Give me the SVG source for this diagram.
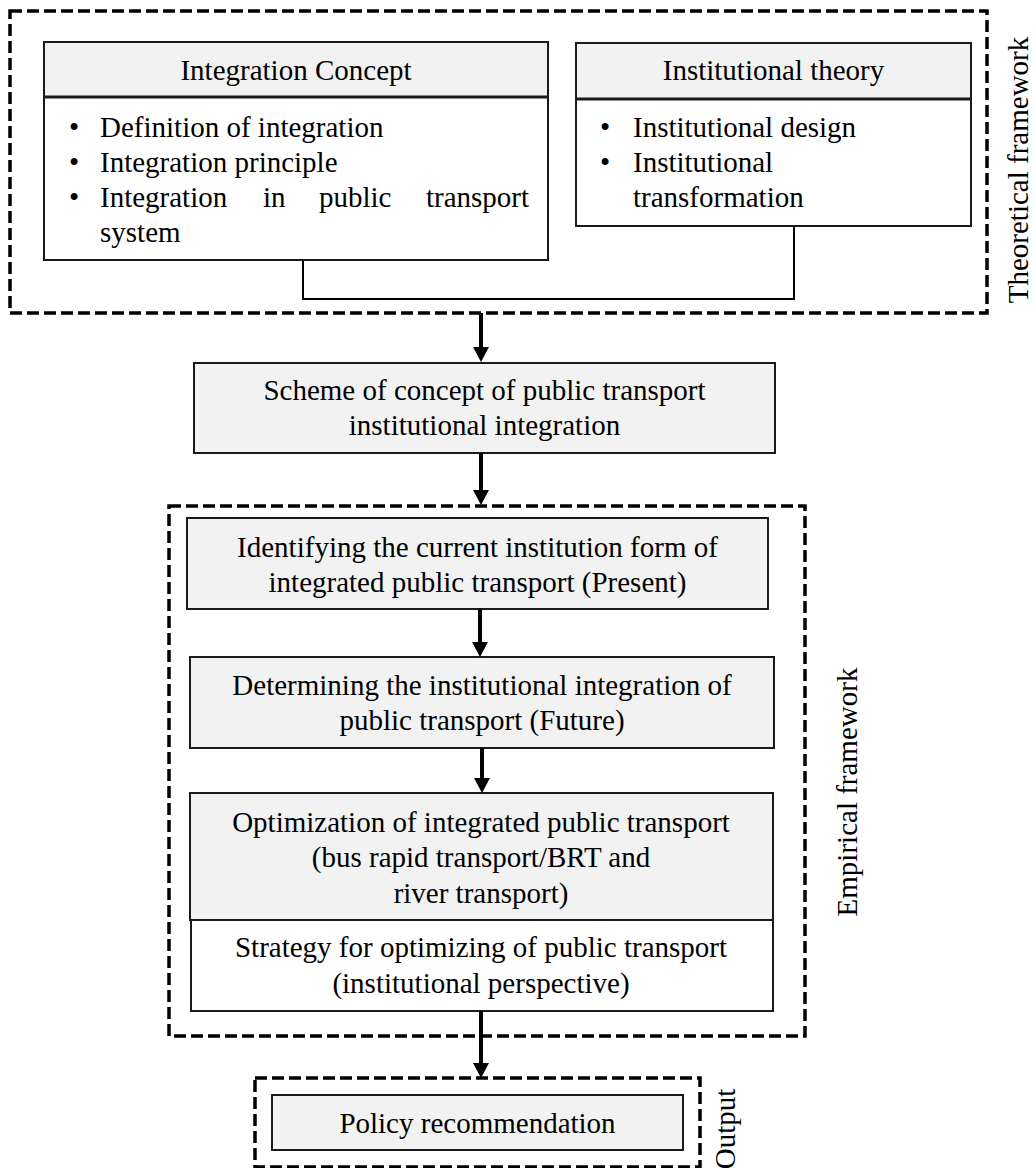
<svg xmlns="http://www.w3.org/2000/svg" width="1035" height="1168" viewBox="0 0 1035 1168">
  <style>
    text { font-family: "Liberation Serif", "Times New Roman", serif; font-size: 29px; fill: #000; }
    .c { text-anchor: middle; }
    .frame { fill: none; stroke: #000; stroke-width: 3.5; stroke-dasharray: 12 5; }
    .box { stroke: #1a1a1a; stroke-width: 2; }
    .grey { fill: #f2f2f2; }
    .white { fill: #fff; }
    .rule { stroke: #1a1a1a; stroke-width: 3; }
    .link { fill: none; stroke: #000; stroke-width: 2; }
    .flow { fill: none; stroke: #000; stroke-width: 4; marker-end: url(#head); }
  </style>
  <defs>
    <marker id="head" markerUnits="userSpaceOnUse" viewBox="0 0 15 16" markerWidth="15" markerHeight="16" refX="7" refY="8" orient="auto">
      <path d="M0,0 L15,8 L0,16 z" fill="#000"/>
    </marker>
  </defs>

  <rect width="1035" height="1168" fill="#fff"/>

  <!-- dashed framework groupings -->
  <g id="theoretical-framework">
    <rect class="frame" x="10" y="11" width="977" height="302"/>
    <text class="c" transform="translate(1028,170) rotate(-90)">Theoretical framework</text>
  </g>
  <g id="empirical-framework">
    <rect class="frame" x="169" y="506" width="636" height="530"/>
    <text class="c" transform="translate(857,792) rotate(-90)">Empirical framework</text>
  </g>
  <g id="output-frame">
    <rect class="frame" x="255" y="1078" width="445" height="89"/>
    <text class="c" transform="translate(735,1129) rotate(-90)">Output</text>
  </g>

  <!-- theory boxes -->
  <g id="integration-concept">
    <rect class="box grey" x="44" y="42" width="504" height="55"/>
    <rect class="box white" x="44" y="97" width="504" height="163"/>
    <line class="rule" x1="44" y1="97" x2="548" y2="97"/>
    <text class="c" x="296" y="80">Integration Concept</text>
    <text x="69" y="137">•</text><text x="100" y="137">Definition of integration</text>
    <text x="69" y="172">•</text><text x="100" y="172">Integration principle</text>
    <text x="69" y="207">•</text>
    <text y="207"><tspan x="100">Integration</tspan><tspan x="263">in</tspan><tspan x="319">public</tspan><tspan x="426">transport</tspan></text>
    <text x="100" y="242">system</text>
  </g>

  <g id="institutional-theory">
    <rect class="box grey" x="576" y="43" width="395" height="56"/>
    <rect class="box white" x="576" y="99" width="395" height="127"/>
    <line class="rule" x1="576" y1="99" x2="971" y2="99"/>
    <text class="c" x="773.5" y="80">Institutional theory</text>
    <text x="600" y="137">•</text><text x="633" y="137">Institutional design</text>
    <text x="600" y="172">•</text><text x="633" y="172">Institutional</text>
    <text x="633" y="207">transformation</text>
  </g>

  <!-- process boxes -->
  <g id="scheme">
    <rect class="box grey" x="194" y="363" width="581" height="90"/>
    <text class="c" x="484.5" y="400">Scheme of concept of public transport</text>
    <text class="c" x="484.5" y="435">institutional integration</text>
  </g>

  <g id="identifying">
    <rect class="box grey" x="187" y="518" width="581" height="91"/>
    <text class="c" x="477.5" y="557">Identifying the current institution form of</text>
    <text class="c" x="477.5" y="592">integrated public transport (Present)</text>
  </g>

  <g id="determining">
    <rect class="box grey" x="190" y="657" width="584" height="91"/>
    <text class="c" x="482" y="695">Determining the institutional integration of</text>
    <text class="c" x="482" y="730">public transport (Future)</text>
  </g>

  <g id="optimization">
    <rect class="box grey" x="190" y="793" width="583" height="127"/>
    <text class="c" x="481" y="832">Optimization of integrated public transport</text>
    <text class="c" x="481" y="867">(bus rapid transport/BRT and</text>
    <text class="c" x="481" y="903">river transport)</text>
  </g>

  <g id="strategy">
    <rect class="box white" x="191" y="920" width="582" height="91"/>
    <text class="c" x="481" y="957">Strategy for optimizing of public transport</text>
    <text class="c" x="481" y="993">(institutional perspective)</text>
  </g>

  <g id="policy">
    <rect class="box grey" x="272" y="1095" width="411" height="55"/>
    <text class="c" x="477.5" y="1133">Policy recommendation</text>
  </g>

  <!-- connectors -->
  <g id="connectors">
    <polyline class="link" points="303,260 303,299 794,299 794,226"/>
    <line class="flow" x1="481" y1="313" x2="481" y2="354"/>
    <line class="flow" x1="481" y1="453" x2="481" y2="497"/>
    <line class="flow" x1="480" y1="609" x2="480" y2="649"/>
    <line class="flow" x1="482" y1="748" x2="482" y2="785"/>
    <line class="flow" x1="481" y1="1011" x2="481" y2="1070"/>
  </g>
</svg>
